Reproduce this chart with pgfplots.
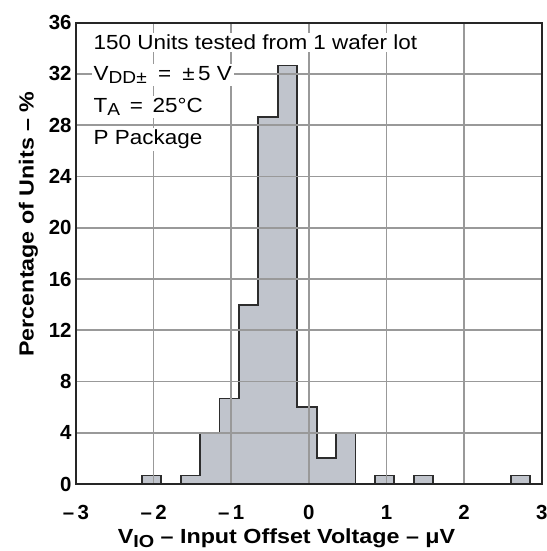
\documentclass[border=0pt]{standalone}
\usepackage{pgfplots}
\pgfplotsset{compat=1.18}
\usepackage{fontspec}
\setmainfont{Liberation Sans}
\newfontfamily\notefont[FakeStretch=1.1]{Liberation Sans}
\newfontfamily\labelfont[FakeStretch=1.14]{Liberation Sans}
\definecolor{barfill}{RGB}{192,196,204}
\definecolor{edgec}{RGB}{45,45,45}
\colorlet{gridc}{black!40}
\newcommand{\sub}[1]{\raisebox{-0.32ex}{\fontsize{0.85em}{1em}\selectfont #1}}
\begin{document}
\begin{tikzpicture}
\begin{axis}[
  scale only axis,
  width=465.7bp, height=461.3bp,
  xmin=-3, xmax=3, ymin=0, ymax=36,
  xtick={-3,-2,-1,0,1,2,3},
  xticklabels={{–\,3},{–\,2},{–\,1},0,1,2,3},
  ytick={0,4,...,36},
  grid=major,
  grid style={gridc, line width=1.6bp},
  axis line style={line width=1.8bp, black!85},
  axis on top,
  tick style={gridc, line width=1.6bp},
  major tick length=6bp,
  /pgf/number format/assume math mode=true,
  ticklabel style={font=\fontsize{20.5}{20.5}\selectfont\bfseries},
  xticklabel style={yshift=-18bp},
  yticklabel style={xshift=-1bp},
  xlabel={V\sub{IO} – Input Offset Voltage – μV},
  ylabel={Percentage of Units – \%},
  label style={font=\labelfont\fontsize{20.5}{20.5}\selectfont\bfseries},
  xlabel style={at={(ticklabel cs:0.452)}, anchor=near ticklabel, yshift=-2bp},
  ylabel style={at={(ticklabel cs:0.5636)}, yshift=4bp},
]
% histogram outline, bins 0.25 uV wide
\addplot[const plot, fill=barfill, draw=edgec, line width=1.8bp] coordinates {
  (-3,0) (-2.15,0.667) (-1.9,0) (-1.65,0.667) (-1.4,4) (-1.15,6.667)
  (-0.9,14) (-0.65,28.667) (-0.4,32.667) (-0.15,6) (0.1,2) (0.35,4)
  (0.6,0) (0.85,0.667) (1.1,0) (1.35,0.667) (1.6,0) (2.6,0.667)
  (2.85,0) (3,0)
} \closedcycle;
\coordinate (n1) at (axis cs:-2.80,33.9);
\coordinate (n2) at (axis cs:-2.80,31.5);
\coordinate (n3) at (axis cs:-2.80,29.0);
\coordinate (n4) at (axis cs:-2.80,26.5);
\end{axis}
\begin{scope}[every node/.style={anchor=base west, fill=white, inner sep=2bp,
    font=\notefont\fontsize{20.5}{20.5}\selectfont}]
\node at (n1) {150 Units tested from 1 wafer lot};
\node at (n2) {V\sub{DD±}\hspace{0.55em}=\hspace{0.55em}±\,5 V};
\node at (n3) {T\sub{A} \,=\, 25°C};
\node at (n4) {P Package};
\end{scope}
\pgfresetboundingbox
\path (-76bp,-67bp) rectangle (471bp,484bp);
\end{tikzpicture}
\end{document}
